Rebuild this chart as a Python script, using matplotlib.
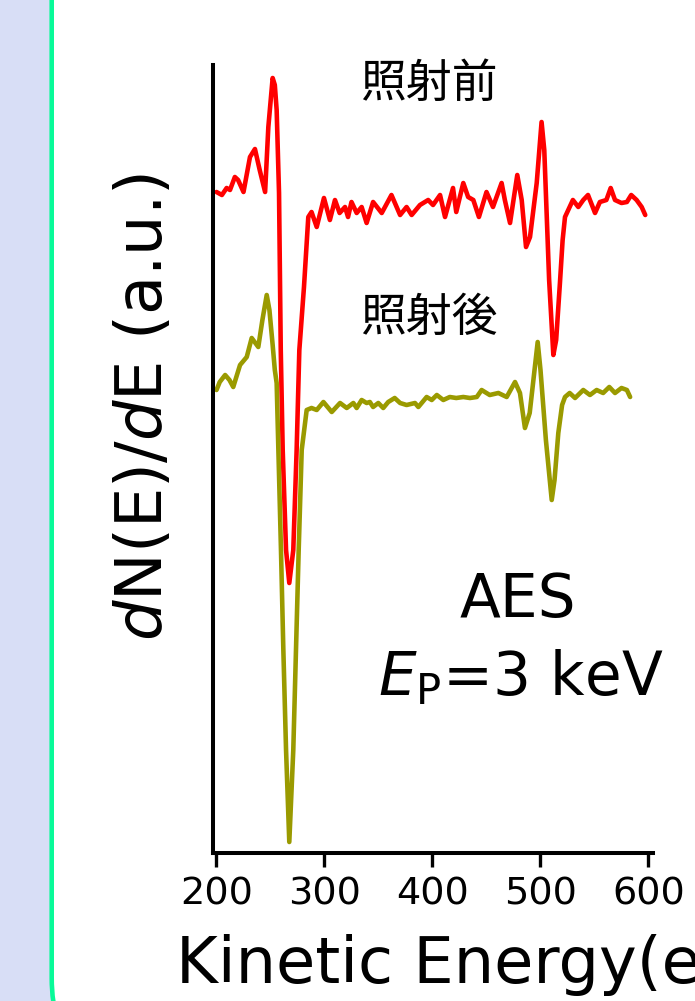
import matplotlib
matplotlib.use("Agg")
import matplotlib.pyplot as plt
from matplotlib.patches import FancyBboxPatch

plt.rcParams["mathtext.fontset"] = "dejavusans"

# ---------------- data (kinetic energy in eV, dN/dE in a.u.) ----------------
energy_before = [200, 205, 209.4, 212.5, 217, 220, 225, 231, 235.6, 240, 245, 248, 252, 254,
                 255.7, 257.9, 259.5, 261.3, 264.4, 267.4, 271.1, 274.2, 276.7, 281, 285, 288,
                 292.8, 299.5, 305, 309.7, 314, 319, 321.8, 325, 329.8, 334.4, 339, 345, 353,
                 362, 370, 376, 380.7, 388.4, 396, 400.5, 407, 411.6, 419, 422, 428.5, 433,
                 437.8, 443, 450, 456, 464, 467, 471.8, 478.5, 482.6, 486.6, 490.3, 496.5, 501,
                 503.5, 508, 511.9, 514.5, 518, 520.5, 522.7, 530, 535, 539.6, 544, 550.5, 555,
                 561, 565, 569, 575, 580, 584, 589, 593.7, 597]
signal_before = [66.1, 65.8, 66.5, 66.3, 67.6, 67.3, 66.1, 69.6, 70.4, 68.3, 66.1, 72.6, 77.5, 76.8,
                 74.3, 66.0, 50.3, 40.3, 30.3, 27.0, 30.3, 40.3, 50.3, 56.6, 63.6, 64.1,
                 62.6, 65.5, 63.3, 65.3, 64.0, 64.6, 63.6, 65.1, 64.0, 64.6, 63.0, 65.1, 64.0,
                 65.8, 63.8, 64.6, 63.8, 64.8, 65.3, 64.8, 65.8, 63.6, 66.5, 64.1, 67.0, 65.6,
                 65.3, 63.6, 66.1, 64.6, 67.0, 65.3, 63.0, 67.8, 65.3, 60.6, 61.6, 67.0, 73.1,
                 70.3, 57.3, 49.8, 51.3, 57.0, 61.3, 63.6, 65.3, 64.6, 65.3, 65.8, 64.0, 65.1,
                 65.3, 66.5, 65.3, 65.0, 65.1, 65.8, 65.3, 64.6, 63.8]

energy_after = [200, 203, 208, 212, 215.5, 221.8, 228, 232.6, 238.7, 242.5, 246.5, 249, 252, 254,
                255.7, 257.3, 259.7, 261.9, 264.4, 267.4, 271.1, 273.6, 276.1, 278.9, 283.5, 288,
                292.8, 299, 306.7, 314.4, 320.6, 326.7, 329.8, 334.4, 339, 342, 345, 349.8,
                354.4, 359, 365, 370, 376, 383.8, 386.9, 394.6, 399.3, 404, 410, 416, 422,
                428.5, 434.7, 441, 445.5, 453, 461, 468.7, 476.4, 481, 485.6, 490, 497.4, 500,
                505, 510.4, 513, 516.5, 520, 522.7, 527, 532, 539.6, 545.8, 552, 558, 563.7,
                569, 575, 580, 583]
signal_after = [46.3, 47.1, 47.8, 47.3, 46.6, 48.8, 49.6, 51.5, 50.6, 53.3, 55.8, 54.3, 50.8, 48.3,
                47.0, 40.3, 30.3, 20.3, 10.3, 1.1, 10.3, 20.3, 30.3, 40.3, 44.3, 44.5,
                44.3, 45.1, 44.1, 45.0, 44.5, 45.0, 44.5, 45.3, 45.0, 45.1, 44.6, 45.0,
                44.5, 45.1, 45.5, 45.0, 44.8, 45.0, 44.6, 45.6, 45.3, 45.8, 45.3, 45.6, 45.5,
                45.6, 45.5, 45.6, 46.3, 45.8, 46.0, 45.6, 47.1, 46.0, 42.5, 44.0, 51.1, 48.3,
                41.3, 35.3, 37.3, 42.0, 44.8, 45.6, 46.0, 45.5, 46.3, 45.8, 46.3, 46.0, 46.6,
                46.0, 46.5, 46.3, 45.6]

xticks = [200, 300, 400, 500, 600]
label_before = "照射前"
label_after = "照射後"
xlabel = "Kinetic Energy(eV)"
ylabel = r"$d$N(E)/$d$E (a.u.)"

# ---------------- figure ----------------
W, H = 695, 1001
fig = plt.figure(figsize=(W / 100, H / 100), dpi=100, facecolor="#D8DEF6")

bg = fig.add_axes([0, 0, 1, 1], zorder=0)
bg.set_xlim(0, W)
bg.set_ylim(H, 0)
bg.axis("off")
panel = FancyBboxPatch((51.7, -150), 1000, 1228, boxstyle="round,pad=0,rounding_size=100",
                       facecolor="white", edgecolor="#08FA98", linewidth=3.3)
bg.add_patch(panel)

ax_l, ax_r, ax_t, ax_b = 213, 652.7, 65, 853
ax = fig.add_axes([ax_l / W, 1 - ax_b / H, (ax_r - ax_l) / W, (ax_b - ax_t) / H], zorder=1)
ax.patch.set_alpha(0)

ax.plot(energy_before, signal_before, color="#FF0000", lw=3.3, solid_joinstyle="round",
        solid_capstyle="round")
ax.plot(energy_after, signal_after, color="#9A9A00", lw=3.3, solid_joinstyle="round",
        solid_capstyle="round")

ax.set_xlim(196.76, 603.9)
ax.set_ylim(0, 78.8)
for s in ["top", "right"]:
    ax.spines[s].set_visible(False)
for s in ["left", "bottom"]:
    ax.spines[s].set_linewidth(2.9)
    ax.spines[s].set_color("black")
ax.set_yticks([])
ax.set_xticks(xticks)
ax.set_xticklabels([str(t) for t in xticks])
ax.tick_params(axis="x", length=10, width=2.4, labelsize=27.5, pad=7, direction="out")
for lab in ax.get_xticklabels():
    lab.set_fontfamily("DejaVu Sans")

cjk = ["Noto Sans CJK JP", "DejaVu Sans"]
bg.text(429, 84, label_before, ha="center", va="center", fontsize=33, family=cjk)
bg.text(429, 318, label_after, ha="center", va="center", fontsize=33, family=cjk)
bg.text(518, 617, "AES", ha="center", va="baseline", fontsize=43, family="DejaVu Sans")
bg.text(521, 695, r"$E_{\mathrm{P}}$=3 keV", ha="center", va="baseline", fontsize=43,
        family="DejaVu Sans")
bg.text(144, 407, ylabel, ha="center", va="center", rotation=90, fontsize=46,
        family="DejaVu Sans")
bg.text(176, 983, xlabel, ha="left", va="baseline", fontsize=46, family="DejaVu Sans")

fig.savefig("out.png", dpi=100, facecolor=fig.get_facecolor())
